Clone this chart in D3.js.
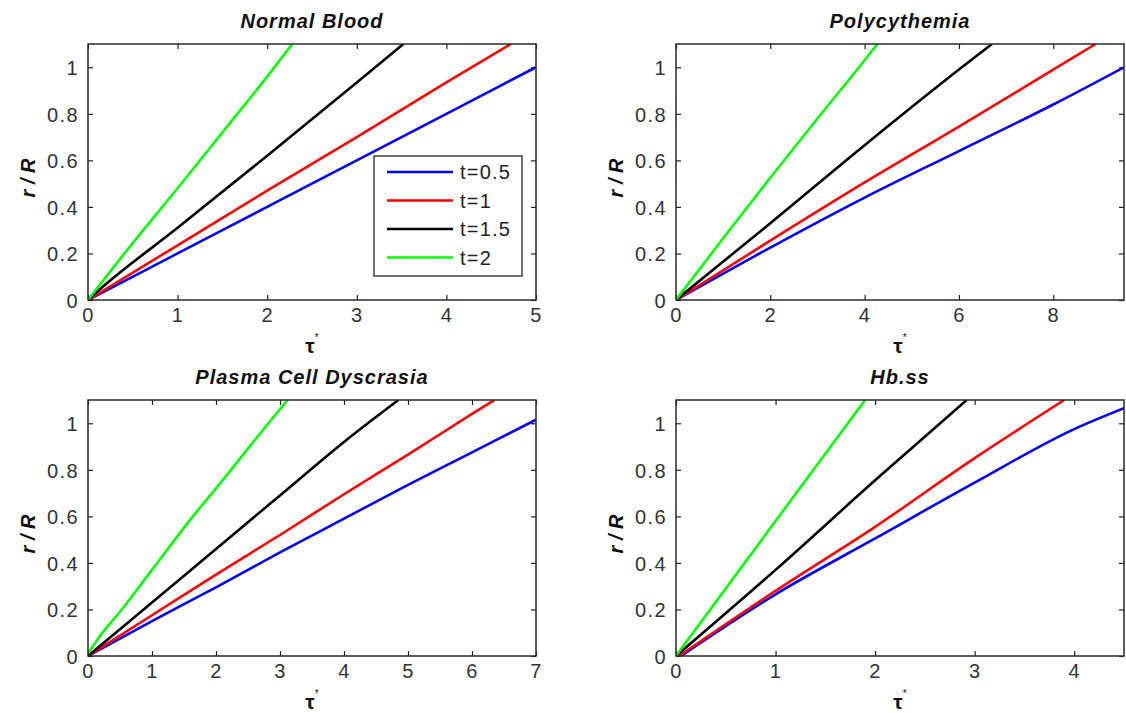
<!DOCTYPE html>
<html>
<head>
<meta charset="utf-8">
<script src="https://cdn.jsdelivr.net/npm/d3@7"></script>
<style>
  html, body { margin: 0; padding: 0; background: #fff; }
  svg { display: block; }
  .tick text { font-family: "Liberation Sans", Arial, sans-serif; font-size: 20px; fill: #333; letter-spacing: 1.4px; }
  .title { font-family: "Liberation Sans", Arial, sans-serif; font-size: 20px; font-weight: bold; font-style: italic; fill: #111; letter-spacing: 1px; }
  .ylab { font-family: "Liberation Sans", Arial, sans-serif; font-size: 20px; font-weight: bold; font-style: italic; fill: #111; }
  .xlab { font-family: "Liberation Sans", Arial, sans-serif; font-weight: bold; fill: #111; }
  .leg { font-family: "Liberation Sans", Arial, sans-serif; font-size: 20px; fill: #222; letter-spacing: 1.2px; }
</style>
</head>
<body>
<svg id="chart" width="1126" height="713"></svg>
<script>
// ---------------- data ----------------
const panelTitles = ["Normal Blood", "Polycythemia", "Plasma Cell Dyscrasia", "Hb.ss"];
const seriesNames = ["t=0.5", "t=1", "t=1.5", "t=2"];
const seriesColors = ["#0000ff", "#ff0000", "#000000", "#00ff00"];
const xMax = [5, 9.5, 7, 4.5];
const yMax = 1.1;
const xTicks = [[0, 1, 2, 3, 4, 5], [0, 2, 4, 6, 8], [0, 1, 2, 3, 4, 5, 6, 7], [0, 1, 2, 3, 4]];
const yTicks = [0, 0.2, 0.4, 0.6, 0.8, 1];

// Normal Blood: [tau*, r/R]
const normalT05 = [[0, 0], [1, 0.2], [2, 0.4], [3, 0.6], [4, 0.8], [5, 1.0]];
const normalT1 = [[0, 0], [1, 0.235], [2, 0.47], [3, 0.70], [4, 0.935], [4.72, 1.1]];
const normalT15 = [[0, 0], [0.1, 0.035], [1, 0.31], [2, 0.62], [3, 0.935], [3.52, 1.1]];
const normalT2 = [[0, 0], [0.5, 0.245], [1, 0.48], [1.5, 0.72], [2, 0.96], [2.28, 1.1]];

// Polycythemia
const polyT05 = [[0, 0], [2, 0.225], [4, 0.44], [6, 0.64], [8, 0.84], [9.5, 1.0]];
const polyT1 = [[0, 0], [2, 0.255], [4, 0.505], [6, 0.745], [8, 0.99], [8.9, 1.1]];
const polyT15 = [[0, 0], [2, 0.33], [4, 0.665], [6, 0.99], [6.7, 1.1]];
const polyT2 = [[0, 0], [1, 0.265], [2, 0.525], [3, 0.78], [4, 1.03], [4.27, 1.1]];

// Plasma Cell Dyscrasia
const plasmaT05 = [[0, 0], [1, 0.15], [2, 0.295], [3, 0.445], [4, 0.59], [5, 0.735], [6, 0.875], [7, 1.015]];
const plasmaT1 = [[0, 0], [1, 0.175], [2, 0.35], [3, 0.52], [4, 0.695], [5, 0.865], [6, 1.04], [6.35, 1.1]];
const plasmaT15 = [[0, 0], [1, 0.23], [2, 0.46], [3, 0.69], [4, 0.92], [4.85, 1.1]];
const plasmaT2 = [[0, 0.01], [0.2, 0.09], [0.5, 0.19], [1, 0.37], [1.64, 0.6], [2, 0.72], [2.82, 1.0], [3.12, 1.1]];

// Hb.ss
const hbssT05 = [[0.05, 0], [1, 0.265], [2, 0.505], [3, 0.745], [4, 0.975], [4.5, 1.065]];
const hbssT1 = [[0.03, 0], [1, 0.28], [2, 0.555], [3, 0.85], [3.9, 1.1]];
const hbssT15 = [[0, 0], [1, 0.37], [2, 0.755], [2.92, 1.1]];
const hbssT2 = [[0, 0], [1, 0.58], [1.9, 1.1]];

const panelSeries = [
  [normalT05, normalT1, normalT15, normalT2],
  [polyT05, polyT1, polyT15, polyT2],
  [plasmaT05, plasmaT1, plasmaT15, plasmaT2],
  [hbssT05, hbssT1, hbssT15, hbssT2]
];

// ---------------- layout ----------------
const panelBoxes = [
  {left: 88, top: 44}, {left: 676, top: 44},
  {left: 88, top: 400}, {left: 676, top: 400}
];
const PW = 448, PH = 256;
const svg = d3.select("#chart");

panelBoxes.forEach((b, i) => {
  const g = svg.append("g").attr("transform", `translate(${b.left},${b.top})`);
  const x = d3.scaleLinear().domain([0, xMax[i]]).range([0, PW]);
  const y = d3.scaleLinear().domain([0, yMax]).range([PH, 0]);

  const clipId = "clip" + i;
  g.append("clipPath").attr("id", clipId)
    .append("rect").attr("x", 0).attr("y", 0).attr("width", PW).attr("height", PH);

  // axes (inward ticks, mirrored)
  const bottom = g.append("g").attr("transform", `translate(0,${PH})`)
    .call(d3.axisBottom(x).tickValues(xTicks[i]).tickSize(-5).tickPadding(8).tickFormat(d3.format("~g")));
  const left = g.append("g")
    .call(d3.axisLeft(y).tickValues(yTicks).tickSize(-5).tickPadding(9).tickFormat(d3.format("~g")));
  const top = g.append("g")
    .call(d3.axisTop(x).tickValues(xTicks[i]).tickSize(-5).tickFormat(""));
  const right = g.append("g").attr("transform", `translate(${PW},0)`)
    .call(d3.axisRight(y).tickValues(yTicks).tickSize(-5).tickFormat(""));
  [bottom, left, top, right].forEach(a => {
    a.select(".domain").remove();
    a.selectAll(".tick line").attr("stroke", "#222").attr("stroke-width", 1.2);
  });
  left.selectAll(".tick text").attr("dy", "0.36em");

  // lines
  const line = d3.line().x(d => x(d[0])).y(d => y(d[1])).curve(d3.curveMonotoneX);
  const lg = g.append("g").attr("clip-path", `url(#${clipId})`);
  panelSeries[i].forEach((s, k) => {
    lg.append("path").datum(s)
      .attr("d", line)
      .attr("fill", "none")
      .attr("stroke", seriesColors[k])
      .attr("stroke-width", 2.6)
      .attr("stroke-linejoin", "round");
  });

  // frame
  g.append("rect").attr("x", 0).attr("y", 0).attr("width", PW).attr("height", PH)
    .attr("fill", "none").attr("stroke", "#2a2a2a").attr("stroke-width", 1.5);

  // title
  g.append("text").attr("class", "title")
    .attr("x", PW / 2).attr("y", -16).attr("text-anchor", "middle")
    .text(panelTitles[i]);

  // y label
  g.append("text").attr("class", "ylab")
    .attr("transform", `translate(${-53},${PH / 2 + 6}) rotate(-90)`)
    .attr("text-anchor", "middle")
    .text("r / R");

  // x label τ*
  const xl = g.append("text").attr("class", "xlab")
    .attr("x", PW / 2).attr("y", PH + 53).attr("text-anchor", "middle");
  xl.append("tspan").attr("font-size", "21px").text("τ");
  xl.append("tspan").attr("font-size", "10px").attr("dy", "-12").attr("font-weight", "normal").text("*");

  // legend in first panel
  if (i === 0) {
    const lgd = g.append("g").attr("transform", `translate(${374 - b.left},${156 - b.top})`);
    lgd.append("rect").attr("x", 0).attr("y", 0).attr("width", 148).attr("height", 120)
      .attr("fill", "#fff").attr("stroke", "#222").attr("stroke-width", 1.3);
    seriesNames.forEach((n, k) => {
      const yy = 16 + k * 28.5;
      lgd.append("line").attr("x1", 13).attr("x2", 79).attr("y1", yy).attr("y2", yy)
        .attr("stroke", seriesColors[k]).attr("stroke-width", 2.6);
      lgd.append("text").attr("class", "leg").attr("x", 86).attr("y", yy).attr("dy", "0.36em").text(n);
    });
  }
});
</script>
</body>
</html>
